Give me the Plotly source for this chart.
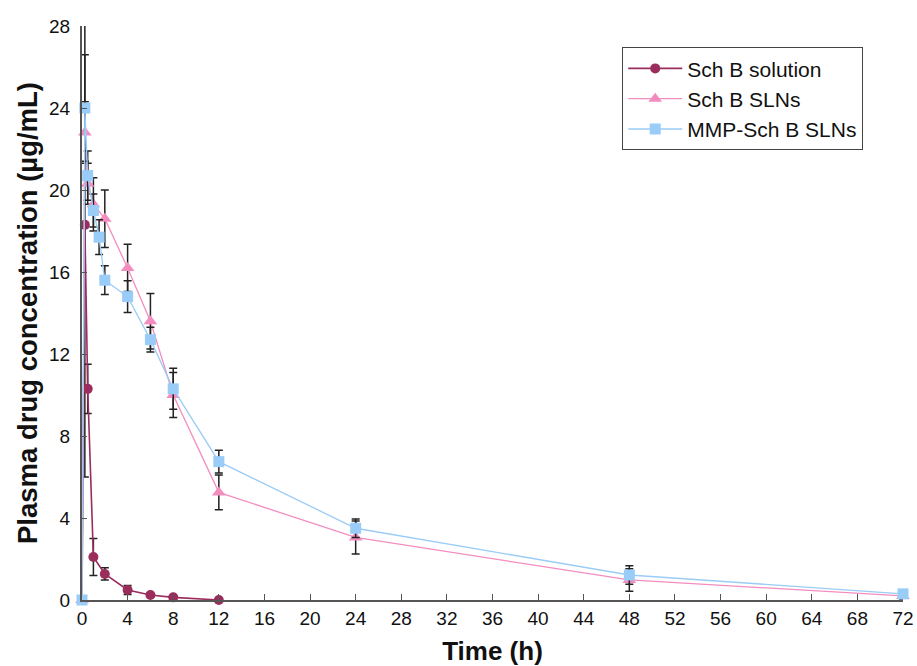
import plotly.graph_objects as go

time_sol = [0, 0.25, 0.5, 1, 2, 4, 6, 8, 12]
sol = [0, 18.3, 10.3, 2.1, 1.27, 0.49, 0.24, 0.13, 0.0]
sol_err_plus = [0, 9.8, 1.2, 0.9, 0.3, 0.22, 0.08, 0.05, 0.03]
sol_err_minus = [0, 12.3, 1.2, 0.9, 0.3, 0.22, 0.08, 0.05, 0.03]

time_sln = [0, 0.25, 0.5, 1, 2, 4, 6, 8, 12, 24, 48, 72]
sln = [0, 22.8, 20.3, 19.3, 18.6, 16.2, 13.6, 10.0, 5.25, 3.05, 0.98, 0.2]
sln_err = [0, 1.5, 1.0, 1.3, 1.4, 1.15, 1.35, 1.1, 0.85, 0.8, 0.55, 0.15]

time_mmp = [0, 0.25, 0.5, 1, 1.5, 2, 4, 6, 8, 12, 24, 48, 72]
mmp = [0, 24.0, 20.7, 19.0, 17.7, 15.6, 14.8, 12.7, 10.3, 6.75, 3.5, 1.22, 0.3]
mmp_err = [0, 2.6, 1.2, 0.8, 0.85, 0.7, 0.77, 0.6, 1.0, 0.55, 0.45, 0.45, 0.15]

x_ticks = list(range(0, 73, 4))
y_ticks = list(range(0, 29, 4))

fig = go.Figure()
fig.add_trace(go.Scatter(
    x=time_sol, y=sol, name="Sch B solution", mode="lines+markers", legendgroup="a",
    line=dict(color="#9B2D5C", width=1.6),
    marker=dict(symbol="circle", size=10, color="#9B2D5C"),
    error_y=dict(type="data", array=sol_err_plus, arrayminus=sol_err_minus,
                 color="#222222", thickness=1.5, width=4),
    cliponaxis=False,
))
fig.add_trace(go.Scatter(
    x=time_sln, y=sln, name="Sch B SLNs", mode="lines+markers", legendgroup="b",
    line=dict(color="#F38DBF", width=1.3),
    marker=dict(symbol="triangle-up", size=12, color="#F38DBF"),
    error_y=dict(type="data", array=sln_err, color="#222222", thickness=1.5, width=4),
    cliponaxis=False,
))
fig.add_trace(go.Scatter(
    x=time_mmp, y=mmp, name="MMP-Sch B SLNs", mode="lines+markers", legendgroup="c",
    line=dict(color="#99CCF7", width=1.3),
    marker=dict(symbol="square", size=11, color="#99CCF7"),
    error_y=dict(type="data", array=mmp_err, color="#222222", thickness=1.5, width=4),
    cliponaxis=False,
))

fig.update_layout(
    width=917, height=666,
    margin=dict(l=82, r=14, t=26, b=66),
    paper_bgcolor="white", plot_bgcolor="white",
    font=dict(family="Liberation Sans, Arial, sans-serif", size=19, color="#111111"),
    showlegend=True,
    legend=dict(x=0.658, y=0.963, xanchor="left", yanchor="top",
                bordercolor="#444444", borderwidth=1, bgcolor="white",
                font=dict(size=21), tracegroupgap=0, traceorder="grouped",
                itemwidth=54),
    xaxis=dict(
        range=[0, 72], tickvals=x_ticks, ticktext=[str(v) for v in x_ticks],
        showgrid=False, zeroline=False, showline=True, linecolor="#555555", linewidth=2,
        ticks="inside", ticklen=6, tickcolor="#555555", automargin=False,
        title=dict(text="<b>Time (h)</b>", font=dict(size=26), standoff=15),
    ),
    yaxis=dict(
        range=[0, 28], tickvals=y_ticks, ticktext=[str(v) for v in y_ticks],
        showgrid=False, zeroline=False, showline=True, linecolor="#555555", linewidth=2,
        ticks="inside", ticklen=5, tickcolor="#555555", automargin=False,
        ticklabelstandoff=6,
        title=dict(text="<b>Plasma drug concentration (µg/mL)</b>", font=dict(size=27.5), standoff=3),
    ),
)

fig.write_html("out.html", config={"displayModeBar": False},
               post_script="document.body.style.margin='0';document.body.style.overflow='hidden';")
